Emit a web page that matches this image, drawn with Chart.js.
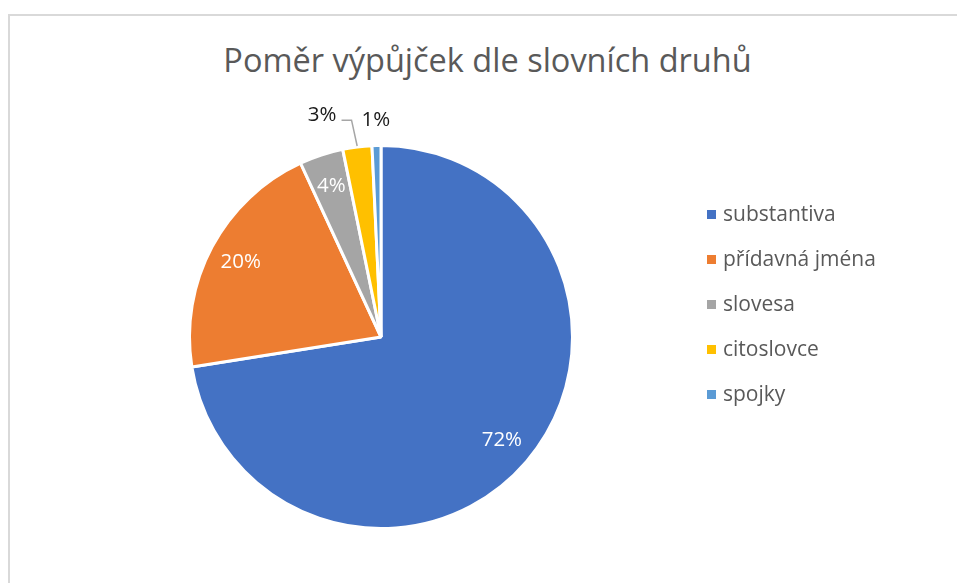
<!DOCTYPE html>
<html lang="cs">
<head>
  <meta charset="UTF-8">
  <title>Poměr výpůjček dle slovních druhů</title>
  <script src="https://cdn.jsdelivr.net/npm/chart.js"></script>
  <style>
    body {
      margin: 0;
      width: 957px;
      height: 583px;
      overflow: hidden;
      background: #fff;
      font-family: "Open Sans", "Noto Sans", sans-serif;
    }
    .karta {
      position: absolute;
      left: 8px;
      top: 14px;
      width: 1000px;
      height: 640px;
      border: 2px solid #d9d9d9;
      box-sizing: border-box;
    }
    h1 {
      position: absolute;
      left: 0;
      width: 975px;
      top: 37px;
      margin: 0;
      text-align: center;
      font-weight: normal;
      font-size: 32.5px;
      line-height: 46px;
      color: #595959;
    }
    #legenda {
      position: absolute;
      left: 707px;
      top: 199px;
      margin: 0;
      padding: 0;
      list-style: none;
    }
    #legenda li {
      height: 45px;
      line-height: 28px;
      font-size: 21px;
      color: #595959;
      white-space: nowrap;
    }
    #legenda span {
      display: inline-block;
      width: 9px;
      height: 9px;
      margin-right: 7px;
      vertical-align: 2px;
    }
    canvas {
      position: absolute;
      left: 0;
      top: 0;
    }
  </style>
</head>
<body>
  <div class="karta"></div>
  <h1>Poměr výpůjček dle slovních druhů</h1>
  <canvas id="graf" width="957" height="583"></canvas>
  <ul id="legenda"></ul>

  <script>
    const druhy = ['substantiva', 'přídavná jména', 'slovesa', 'citoslovce', 'spojky'];
    const podily = [72.5, 20.6, 3.7, 2.45, 0.75];
    const popisky = ['72%', '20%', '4%', '3%', '1%'];
    const barvy = ['#4472C4', '#ED7D31', '#A5A5A5', '#FFC000', '#5B9BD5'];

    const pismo = '"Open Sans", "Noto Sans", sans-serif';

    // legenda v HTML
    const legenda = document.getElementById('legenda');
    druhy.forEach((d, i) => {
      const li = document.createElement('li');
      li.innerHTML = '<span style="background:' + barvy[i] + '"></span>' + d;
      legenda.appendChild(li);
    });

    // popisky dat: velke vysece uvnitr, male venku s vodici carou
    const popiskyPlugin = {
      id: 'popisky',
      afterDatasetsDraw(chart) {
        const ctx = chart.ctx;
        const meta = chart.getDatasetMeta(0);
        ctx.save();
        ctx.font = '20.5px ' + pismo;
        ctx.textAlign = 'center';
        ctx.textBaseline = 'middle';
        const venku = [];
        for (let i = meta.data.length - 1; i >= 0; i--) {
          const arc = meta.data[i];
          const { x, y, startAngle, endAngle, outerRadius } = arc.getProps(['x', 'y', 'startAngle', 'endAngle', 'outerRadius'], true);
          const mid = (startAngle + endAngle) / 2;
          const text = popisky[i];
          const w = ctx.measureText(text).width;
          if (podily[i] >= 3.5) {
            const r = outerRadius * 0.83;
            ctx.fillStyle = '#ffffff';
            ctx.fillText(text, x + Math.cos(mid) * r, y + Math.sin(mid) * r);
            continue;
          }
          let r = outerRadius + 25;
          let a = mid;
          let lx = x + Math.cos(a) * r, ly = y + Math.sin(a) * r;
          let posunuto = false;
          const prekryv = () => venku.some(o => lx + w / 2 + 24 > o.left && lx - w / 2 < o.right + 24);
          if (prekryv()) {
            r = outerRadius + 38;
            posunuto = true;
            while (prekryv() && a > mid - 1) {
              a -= 0.005;
              lx = x + Math.cos(a) * r;
              ly = y + Math.sin(a) * r;
            }
          }
          venku.push({ left: lx - w / 2, right: lx + w / 2 });
          ctx.fillStyle = '#1a1a1a';
          ctx.fillText(text, lx, ly);
          if (posunuto) {
            const sx = lx + w / 2 + 5, sy = ly + 5;
            ctx.strokeStyle = '#a6a6a6';
            ctx.lineWidth = 1.5;
            ctx.beginPath();
            ctx.moveTo(sx, sy);
            ctx.lineTo(sx + 10, sy);
            ctx.lineTo(x + Math.cos(mid) * (outerRadius + 1), y + Math.sin(mid) * (outerRadius + 1));
            ctx.stroke();
          }
        }
        ctx.restore();
      }
    };

    new Chart(document.getElementById('graf'), {
      type: 'pie',
      data: {
        labels: druhy,
        datasets: [{
          data: podily,
          backgroundColor: barvy,
          borderColor: '#ffffff',
          borderWidth: 3
        }]
      },
      options: {
        responsive: false,
        animation: false,
        layout: {
          padding: { left: 188, right: 383, top: 144, bottom: 53 }
        },
        plugins: {
          legend: { display: false },
          tooltip: { enabled: false }
        }
      },
      plugins: [popiskyPlugin]
    });
  </script>
</body>
</html>
